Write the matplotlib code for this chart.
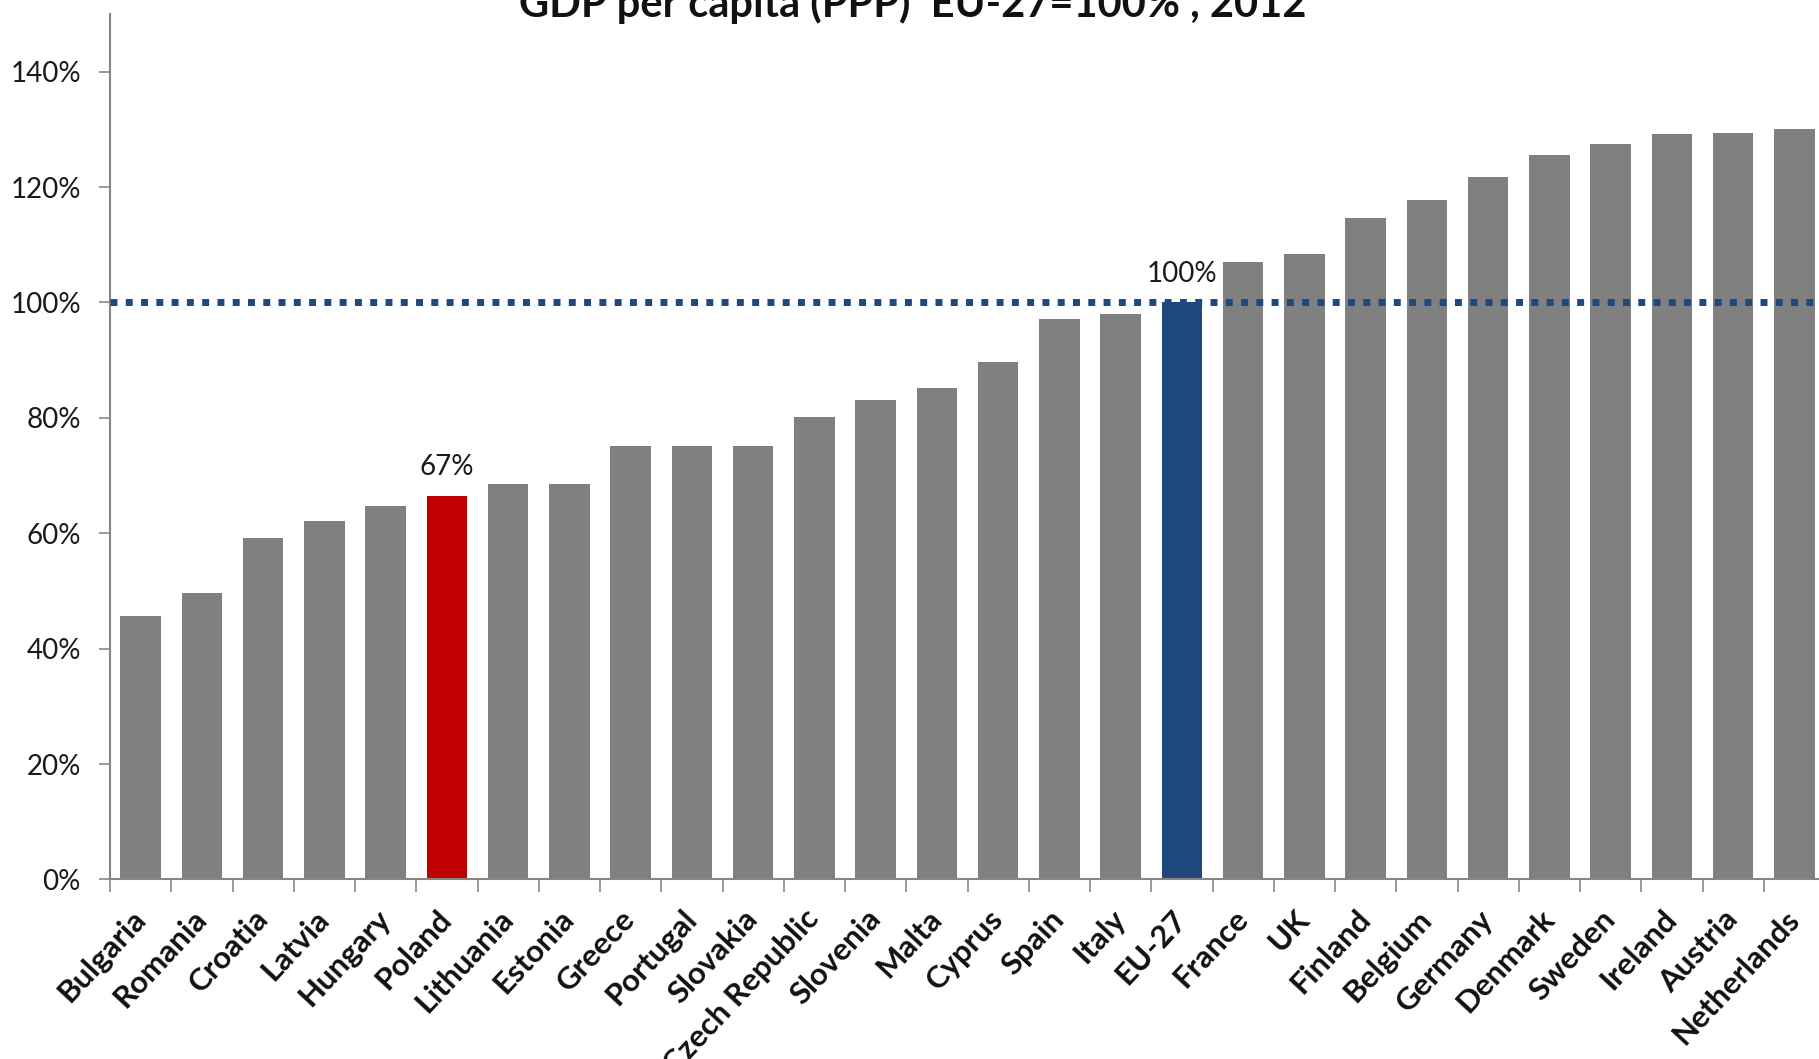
import matplotlib
matplotlib.use("Agg")
import matplotlib.pyplot as plt
import matplotlib.transforms as mtransforms
import numpy as np

countries = ["Bulgaria", "Romania", "Croatia", "Latvia", "Hungary", "Poland",
             "Lithuania", "Estonia", "Greece", "Portugal", "Slovakia",
             "Czech Republic", "Slovenia", "Malta", "Cyprus", "Spain", "Italy",
             "EU-27", "France", "UK", "Finland", "Belgium", "Germany",
             "Denmark", "Sweden", "Ireland", "Austria", "Netherlands"]
values = [45.7, 49.6, 59.1, 62.1, 64.8, 66.5, 68.6, 68.6, 75.2, 75.2, 75.2,
          80.1, 83.1, 85.2, 89.6, 97.2, 98.0, 100, 107.0, 108.4, 114.7,
          117.8, 121.8, 125.6, 127.5, 129.2, 129.4, 130.0]
yticks = [0, 20, 40, 60, 80, 100, 120, 140]
reference_level = 100
highlight = {"Poland": "#C00000", "EU-27": "#1F497D"}
annotations = {"Poland": "67%", "EU-27": "100%"}
title = "GDP per capita (PPP)  EU-27=100% , 2012"

plt.rcParams['font.family'] = ['Lato', 'DejaVu Sans']

W, H = 1819, 1059
fig = plt.figure(figsize=(W / 100, H / 100), dpi=100)
ax = fig.add_axes([110 / W, 1 - 879.4 / H, 1715 / W, (879.4 - 14) / H])

x = np.arange(len(countries))
colors = [highlight.get(c, "#808080") for c in countries]
ax.bar(x, values, width=0.66, color=colors, zorder=2)

ax.axhline(reference_level, color="#1F497D", linewidth=5,
           linestyle=(0, (1, 1.2)), dash_capstyle="butt", zorder=3)

for i, c in enumerate(countries):
    if c in annotations:
        ax.annotate(annotations[c], (x[i], values[i]), xytext=(0, 11),
                    textcoords="offset points", ha="center", va="bottom",
                    fontsize=20, color="#1a1a1a")

ax.set_xlim(-0.5, len(countries) - 0.5)
ax.set_ylim(0, 150)
ax.set_yticks(yticks)
ax.set_yticklabels([f"{v}%" for v in yticks], fontsize=20, color="#1a1a1a")
ax.set_xticks(x)
labels = ax.set_xticklabels(countries, rotation=47, ha="right", va="center",
                            rotation_mode="anchor", fontsize=22.5,
                            fontweight="bold", color="#111111")
# last label nudged left so it stays inside the figure (as in the original)
labels[-1].set_transform(labels[-1].get_transform() +
                         mtransforms.ScaledTranslation(-0.27, 0, fig.dpi_scale_trans))
ax.set_xticks(np.arange(-0.5, len(countries), 1), minor=True)
ax.tick_params(axis="x", which="major", length=0, pad=25)
ax.tick_params(axis="x", which="minor", length=9, width=1.2, color="#868686",
               direction="out")
ax.tick_params(axis="y", length=8, width=1.2, color="#868686", pad=13)

for s in ["top", "right"]:
    ax.spines[s].set_visible(False)
for s in ["left", "bottom"]:
    ax.spines[s].set_color("#868686")
    ax.spines[s].set_linewidth(1.5)

fig.text(913 / W, 1 - 17 / H, title, ha="center", va="baseline",
         fontsize=30, fontweight="bold", color="#111111")

fig.savefig("out.png", dpi=100)
